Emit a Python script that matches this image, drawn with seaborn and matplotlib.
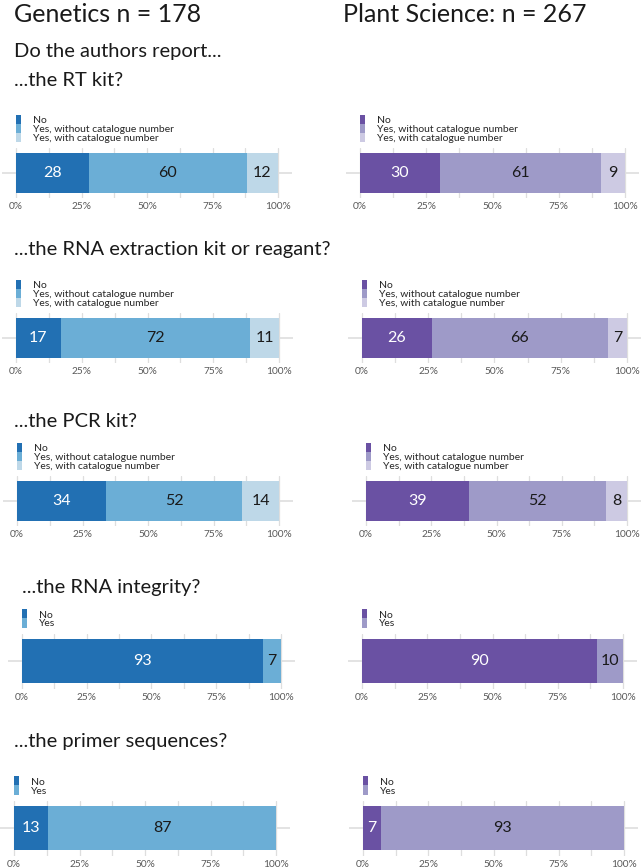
import matplotlib
matplotlib.use("Agg")
import matplotlib.pyplot as plt
import matplotlib.transforms as mtransforms
from matplotlib.patches import Patch
import seaborn as sns

# values (percent of papers)
cats3 = ["No", "Yes, without catalogue number", "Yes, with catalogue number"]
cats2 = ["No", "Yes"]

gen_rt = [28, 60, 12]
pla_rt = [30, 61, 9]
gen_rna = [17, 72, 11]
pla_rna = [26, 66, 7]
gen_pcr = [34, 52, 14]
pla_pcr = [39, 52, 8]
gen_integrity = [93, 7]
pla_integrity = [90, 10]
gen_primer = [13, 87]
pla_primer = [7, 93]

questions = ["...the RT kit?", "...the RNA extraction kit or reagant?",
             "...the PCR kit?", "...the RNA integrity?", "...the primer sequences?"]

blues = ["#2270b3", "#6baed6", "#bed8e8"]
purples = ["#6a51a3", "#9e9ac8", "#cdcae3"]

sns.set_style("white")
plt.rcParams["font.family"] = ["Lato", "DejaVu Sans"]

W, H = 641, 867
fig = plt.figure(figsize=(W / 100, H / 100), dpi=100)

# panel geometry in pixels: (left bar x0, x1), (right bar x0, x1), bar top, bar bottom
rows = [
    ((16, 278), (360, 625), 153, 193),
    ((16, 279), (362, 627), 318, 358),
    ((17, 279), (366, 627), 481, 521),
    ((22, 281), (362, 623), 639, 683),
    ((14, 276), (363, 624), 806, 850),
]
title_y = [80, 250, 421, 588, 741]
title_x = [14, 14, 14, 22, 14]
data = [(gen_rt, pla_rt), (gen_rna, pla_rna), (gen_pcr, pla_pcr),
        (gen_integrity, pla_integrity), (gen_primer, pla_primer)]

grid_col = "#dedede"


def panel(xs, top, bottom, values, colors):
    x0, x1 = xs
    ppu = (x1 - x0) / 100
    left = x0 - 5.3 * ppu
    right = x1 + 5.3 * ppu
    h = (bottom - top) / 0.8
    cy = (top + bottom) / 2
    ax = fig.add_axes([left / W, 1 - (cy + h / 2) / H, (right - left) / W, h / H])

    total = sum(values)
    pct = [v / total * 100 for v in values]
    cum = [sum(pct[:i + 1]) for i in range(len(pct))]
    # stacked bar: draw cumulative totals, longest first
    for i in reversed(range(len(values))):
        sns.barplot(x=[cum[i]], y=["q"], orient="h", color=colors[i],
                    saturation=1, width=0.8, errorbar=None, linewidth=0, ax=ax,
                    zorder=3)
    start = 0
    for i, v in enumerate(values):
        ax.text(start + pct[i] / 2, 0, str(v), ha="center", va="center",
                fontsize=11.5, color="white" if i == 0 else "#1a1a1a", zorder=4)
        start += pct[i]

    ax.set_xlim(-5.3, 105.3)
    ax.set_ylim(0.5, -0.5)
    ax.set_xticks([0, 25, 50, 75, 100])
    ax.set_xticklabels(["0%", "25%", "50%", "75%", "100%"])
    ax.tick_params(axis="x", which="both", length=0, pad=3, labelsize=7.3,
                   labelcolor="#595959")
    ax.set_yticks([])
    ax.set_xlabel("")
    ax.set_ylabel("")
    for x in [0, 12.5, 25, 37.5, 50, 62.5, 75, 87.5, 100]:
        ax.axvline(x, color=grid_col, lw=0.9, zorder=1)
    ax.axhline(0, color=grid_col, lw=1.2, zorder=1)
    for s in ax.spines.values():
        s.set_visible(False)

    labels = cats3 if len(values) == 3 else cats2
    handles = [Patch(facecolor=colors[i], edgecolor="none") for i in range(len(labels))]
    trans = mtransforms.blended_transform_factory(ax.transData, ax.transAxes)
    ax.legend(handles, labels, loc="lower left", bbox_to_anchor=(0, 1 + 5 / h),
              bbox_transform=trans, frameon=False, fontsize=7.5, borderpad=0,
              borderaxespad=0, labelspacing=-0.12, handlelength=0.45,
              handleheight=1.0, handletextpad=1.15, labelcolor="#262626")
    return ax


for r, (lx, rx, top, bottom) in enumerate(rows):
    gvals, pvals = data[r]
    panel(lx, top, bottom, gvals, blues)
    panel(rx, top, bottom, pvals, purples)
    fig.text(title_x[r] / W, 1 - title_y[r] / H, questions[r], fontsize=14.5,
             va="center", ha="left", color="#1a1a1a")

fig.text(14 / W, 1 - 14 / H, "Genetics n = 178", fontsize=18, va="center",
         ha="left", color="#1a1a1a")
fig.text(343 / W, 1 - 14 / H, "Plant Science: n = 267", fontsize=18,
         va="center", ha="left", color="#1a1a1a")
fig.text(14 / W, 1 - 52 / H, "Do the authors report...", fontsize=14.5,
         va="center", ha="left", color="#1a1a1a")

fig.savefig("out.png", dpi=100)
